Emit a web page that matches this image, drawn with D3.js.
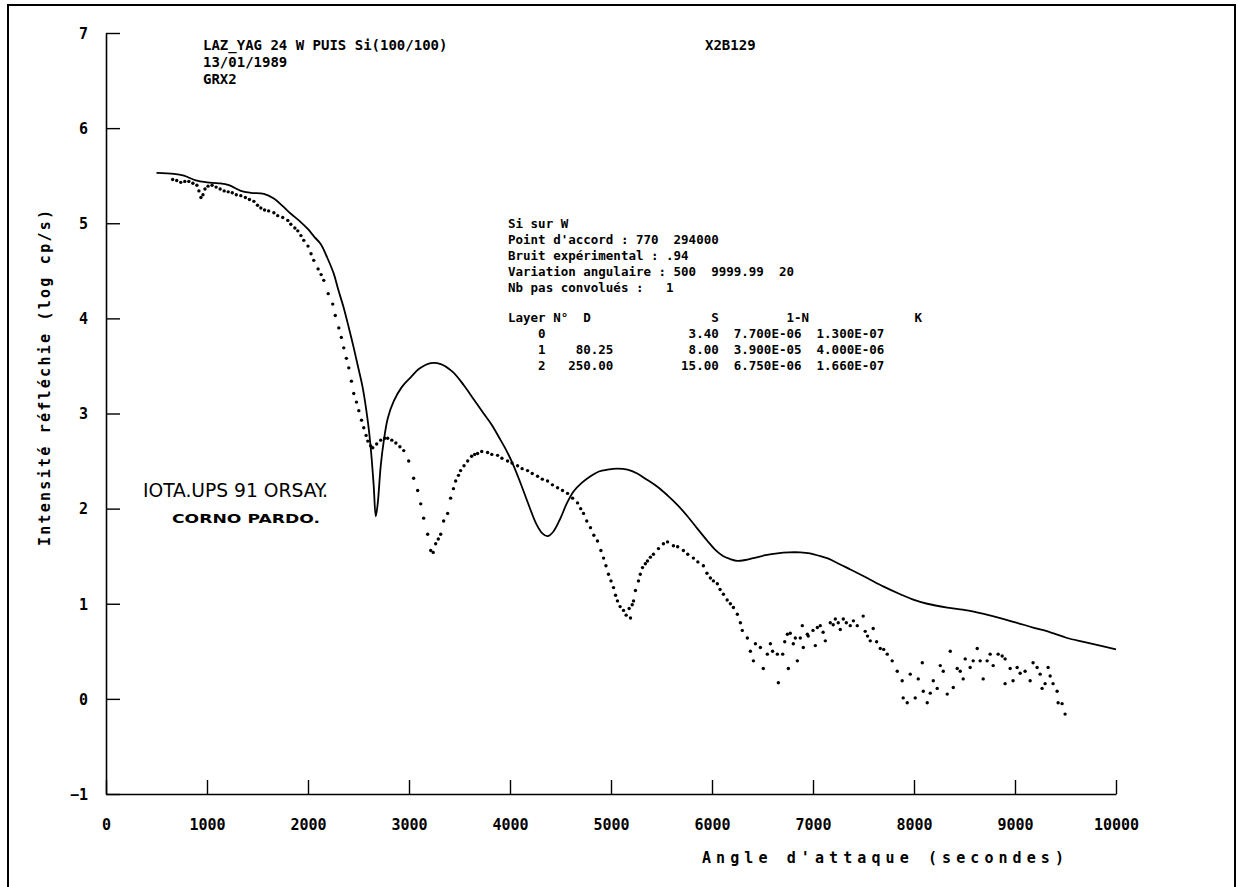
<!DOCTYPE html>
<html>
<head>
<meta charset="UTF-8">
<title>Réflectivité X - LAZ_YAG</title>
<script src="https://cdn.jsdelivr.net/npm/d3@7"></script>
<style>
  body { margin: 0; background: #fff; }
  text { fill: #000; }
  .mono { font-family: "DejaVu Sans Mono", monospace; font-weight: bold; white-space: pre; }
</style>
</head>
<body>
<div id="chart"></div>
<script>
// courbe calculée (trait continu) : angle (secondes), log intensité
var calcX = [500, 673, 772, 890, 1000, 1118, 1217, 1335, 1434, 1563, 1662, 1750, 1830, 1920, 1998, 2060, 2127, 2190, 2255, 2300,
    2354, 2400, 2453, 2500, 2542, 2592, 2621, 2650, 2671, 2690, 2720, 2750, 2790, 2849, 2930, 3017, 3100, 3215, 3314, 3430,
    3541, 3640, 3739, 3820, 3907, 3970, 4036, 4100, 4174, 4260, 4320, 4372, 4430, 4500, 4560, 4629, 4710, 4797, 4880, 4965,
    5063, 5163, 5260, 5361, 5460, 5559, 5657, 5757, 5855, 5955, 6030, 6113, 6180, 6251, 6330, 6409, 6530, 6647, 6760, 6874,
    6970, 7072, 7140, 7201, 7370, 7537, 7700, 7864, 8000, 8131, 8330, 8526, 8700, 8853, 9020, 9179, 9350, 9515, 9680, 9842, 10000];
var calcY = [5.53, 5.52, 5.50, 5.45, 5.43, 5.42, 5.40, 5.34, 5.32, 5.31, 5.26, 5.18, 5.10, 5.02, 4.94, 4.86, 4.78, 4.64, 4.47, 4.30,
    4.11, 3.92, 3.69, 3.47, 3.27, 2.92, 2.64, 2.25, 1.92, 2.05, 2.45, 2.71, 2.95, 3.13, 3.28, 3.38, 3.47, 3.53, 3.52, 3.44,
    3.30, 3.15, 3.00, 2.88, 2.72, 2.60, 2.45, 2.28, 2.07, 1.84, 1.74, 1.71, 1.76, 1.90, 2.05, 2.18, 2.27, 2.34, 2.39, 2.41,
    2.42, 2.41, 2.37, 2.30, 2.23, 2.14, 2.04, 1.92, 1.79, 1.66, 1.57, 1.50, 1.47, 1.45, 1.46, 1.48, 1.51, 1.53, 1.54, 1.54,
    1.53, 1.50, 1.48, 1.45, 1.36, 1.27, 1.18, 1.10, 1.04, 1.00, 0.96, 0.93, 0.89, 0.85, 0.80, 0.75, 0.70, 0.64, 0.60, 0.56, 0.52];

// points expérimentaux
var expX = [660, 700, 740, 780, 820, 860, 900, 920, 940, 960, 980, 1010, 1050, 1090, 1130, 1170, 1210, 1250, 1290, 1335,
    1380, 1420, 1464, 1500, 1533, 1570, 1610, 1662, 1700, 1750, 1800, 1830, 1870, 1899, 1930, 1958, 2000, 2030, 2057, 2100,
    2130, 2156, 2200, 2245, 2270, 2305, 2330, 2354, 2380, 2404, 2430, 2453, 2480, 2503, 2530, 2552, 2575, 2592, 2620, 2641,
    2680, 2720, 2760, 2789, 2830, 2870, 2910, 2948, 2997, 3046, 3086, 3116, 3145, 3185, 3215, 3240, 3264, 3290, 3314, 3343,
    3383, 3412, 3440, 3462, 3490, 3511, 3545, 3581, 3620, 3650, 3679, 3720, 3778, 3820, 3877, 3920, 3976, 4020, 4075, 4120,
    4174, 4220, 4273, 4320, 4372, 4420, 4471, 4520, 4570, 4620, 4669, 4700, 4728, 4760, 4797, 4830, 4866, 4900, 4926, 4950,
    4975, 5000, 5025, 5045, 5064, 5090, 5124, 5150, 5193, 5180, 5210, 5223, 5242, 5272, 5290, 5312, 5340, 5361, 5390, 5420,
    5470, 5519, 5560, 5618, 5660, 5717, 5760, 5816, 5860, 5915, 5950, 5984, 6014, 6053, 6080, 6113, 6150, 6182, 6212, 6251,
    6281, 6300, 6350, 6380, 6410, 6430, 6479, 6508, 6548, 6578, 6600, 6647, 6657, 6700, 6720, 6746, 6756, 6775, 6805, 6825,
    6845, 6874, 6894, 6904, 6944, 6953, 7000, 7023, 7043, 7072, 7100, 7122, 7171, 7200, 7221, 7250, 7270, 7300, 7330, 7369,
    7400, 7438, 7497, 7517, 7540, 7567, 7596, 7630, 7666, 7700, 7735, 7784, 7834, 7883, 7893, 7933, 7963, 8012, 8042, 8082,
    8092, 8131, 8161, 8191, 8230, 8260, 8290, 8329, 8359, 8389, 8428, 8458, 8487, 8507, 8556, 8586, 8626, 8655, 8685, 8724,
    8754, 8784, 8833, 8873, 8902, 8902, 8952, 8981, 9021, 9051, 9100, 9150, 9179, 9219, 9249, 9268, 9298, 9328, 9348, 9377,
    9417, 9427, 9466, 9496];
var expY = [5.46, 5.45, 5.43, 5.44, 5.44, 5.42, 5.40, 5.34, 5.27, 5.30, 5.36, 5.39, 5.40, 5.38, 5.36, 5.34, 5.33, 5.32, 5.30, 5.29,
    5.27, 5.25, 5.23, 5.19, 5.16, 5.14, 5.13, 5.11, 5.08, 5.06, 5.03, 4.99, 4.95, 4.92, 4.87, 4.82, 4.76, 4.68, 4.61, 4.52,
    4.46, 4.40, 4.26, 4.15, 4.03, 3.90, 3.80, 3.69, 3.58, 3.48, 3.34, 3.21, 3.12, 3.03, 2.93, 2.85, 2.77, 2.71, 2.66, 2.64,
    2.68, 2.72, 2.74, 2.74, 2.72, 2.69, 2.65, 2.61, 2.50, 2.32, 2.19, 2.05, 1.90, 1.73, 1.56, 1.54, 1.63, 1.68, 1.73, 1.87,
    1.95, 2.11, 2.21, 2.29, 2.35, 2.40, 2.45, 2.50, 2.55, 2.57, 2.58, 2.60, 2.59, 2.57, 2.56, 2.53, 2.50, 2.48, 2.45, 2.42,
    2.40, 2.37, 2.34, 2.31, 2.29, 2.25, 2.22, 2.19, 2.16, 2.11, 2.06, 2.00, 1.95, 1.87, 1.80, 1.72, 1.66, 1.56, 1.48, 1.40,
    1.31, 1.24, 1.17, 1.09, 1.03, 0.97, 0.93, 0.88, 0.85, 0.95, 0.99, 1.03, 1.14, 1.24, 1.31, 1.38, 1.42, 1.45, 1.49, 1.52,
    1.58, 1.63, 1.65, 1.61, 1.60, 1.56, 1.52, 1.48, 1.44, 1.40, 1.32, 1.27, 1.24, 1.21, 1.15, 1.10, 1.04, 1.00, 0.96, 0.89,
    0.80, 0.72, 0.64, 0.50, 0.40, 0.58, 0.54, 0.32, 0.47, 0.58, 0.50, 0.47, 0.17, 0.47, 0.60, 0.68, 0.32, 0.69, 0.58, 0.64,
    0.40, 0.64, 0.77, 0.54, 0.68, 0.66, 0.72, 0.56, 0.75, 0.77, 0.70, 0.61, 0.80, 0.78, 0.84, 0.80, 0.73, 0.84, 0.80, 0.77,
    0.82, 0.77, 0.87, 0.71, 0.66, 0.61, 0.74, 0.60, 0.53, 0.52, 0.47, 0.40, 0.29, 0.19, 0.01, -0.04, 0.26, 0.01, 0.21, 0.38,
    0.08, -0.04, 0.06, 0.19, 0.11, 0.35, 0.29, 0.05, 0.50, 0.12, 0.32, 0.29, 0.21, 0.42, 0.33, 0.40, 0.53, 0.40, 0.21, 0.40,
    0.47, 0.35, 0.47, 0.45, 0.42, 0.16, 0.32, 0.19, 0.33, 0.27, 0.29, 0.19, 0.38, 0.33, 0.26, 0.11, 0.16, 0.33, 0.24, 0.16,
    0.08, -0.04, -0.05, -0.16];

var xTicks = [0, 1000, 2000, 3000, 4000, 5000, 6000, 7000, 8000, 9000, 10000];
var yTicks = [-1, 0, 1, 2, 3, 4, 5, 6, 7];

var titleLines = ["LAZ_YAG 24 W PUIS Si(100/100)", "13/01/1989", "GRX2"];
var sampleRef = "X2B129";
var infoLines = [
    "Si sur W",
    "Point d'accord : 770  294000",
    "Bruit expérimental : .94",
    "Variation angulaire : 500  9999.99  20",
    "Nb pas convolués :   1"
];
var layerLines = [
    "Layer N°  D                S         1-N              K",
    "    0                   3.40  7.700E-06  1.300E-07",
    "    1    80.25          8.00  3.900E-05  4.000E-06",
    "    2   250.00         15.00  6.750E-06  1.660E-07"
];

var width = 1238, height = 887;

var svg = d3.select("#chart").append("svg")
    .attr("width", width)
    .attr("height", height);

// cadre de la feuille
svg.append("path")
    .attr("d", "M8,887 L8,5 L1235,5 L1235,887")
    .attr("fill", "none")
    .attr("stroke", "#000")
    .attr("stroke-width", 2);

var x = d3.scaleLinear().domain([0, 10000]).range([106, 1116]);
var y = d3.scaleLinear().domain([-1, 7]).range([794, 33]);

// axe Y
var yAxis = d3.axisLeft(y)
    .tickValues(yTicks)
    .tickSizeInner(-14)
    .tickSizeOuter(0)
    .tickPadding(16)
    .tickFormat(d3.format("d"));
var gy = svg.append("g")
    .attr("transform", "translate(" + x(0) + ",0)")
    .call(yAxis);

// axe X
var xAxis = d3.axisBottom(x)
    .tickValues(xTicks)
    .tickSizeInner(-14)
    .tickSizeOuter(0)
    .tickPadding(24)
    .tickFormat(d3.format("d"));
var gx = svg.append("g")
    .attr("transform", "translate(0," + y(-1) + ")")
    .call(xAxis);

[gx, gy].forEach(function (g) {
    g.select(".domain").attr("stroke", "#000").attr("stroke-width", 1.6);
    g.selectAll(".tick line").attr("stroke", "#000").attr("stroke-width", 1.4);
    g.selectAll(".tick text")
        .attr("class", "mono")
        .attr("font-size", 15)
        .attr("font-family", "DejaVu Sans Mono, monospace")
        .attr("font-weight", "bold")
        .attr("fill", "#000");
});
gy.selectAll(".tick text").attr("x", -18).attr("dy", "0.35em");
gx.selectAll(".tick text").attr("dy", "0.35em").attr("y", 31);

// titres des axes
svg.append("text")
    .attr("class", "mono")
    .attr("transform", "translate(45," + 378 + ") rotate(-90)")
    .attr("text-anchor", "middle")
    .attr("font-size", 15)
    .attr("textLength", 336)
    .attr("lengthAdjust", "spacing")
    .attr("dy", "0.35em")
    .text("Intensité réfléchie (log cp/s)");

svg.append("text")
    .attr("class", "mono")
    .attr("x", 702)
    .attr("y", 863)
    .attr("font-size", 15)
    .attr("textLength", 362)
    .attr("lengthAdjust", "spacing")
    .text("Angle d'attaque (secondes)");

// courbe calculée
var line = d3.line()
    .x(function (d) { return x(d[0]); })
    .y(function (d) { return y(d[1]); })
    .curve(d3.curveCatmullRom.alpha(0.5));

svg.append("path")
    .datum(d3.zip(calcX, calcY))
    .attr("d", line)
    .attr("fill", "none")
    .attr("stroke", "#000")
    .attr("stroke-width", 1.8);

// points expérimentaux
svg.append("g")
    .selectAll("circle")
    .data(d3.zip(expX, expY))
    .enter().append("circle")
    .attr("cx", function (d) { return x(d[0]); })
    .attr("cy", function (d) { return y(d[1]); })
    .attr("r", 1.7)
    .attr("fill", "#000");

// en-tête
var head = svg.append("g").attr("font-size", 14);
head.selectAll("text.t")
    .data(titleLines)
    .enter().append("text")
    .attr("class", "mono")
    .attr("x", 203)
    .attr("y", 50)
    .attr("dy", function (d, i) { return i * 17; })
    .text(function (d) { return d; });
head.append("text")
    .attr("class", "mono")
    .attr("x", 705)
    .attr("y", 50)
    .text(sampleRef);

// bloc de paramètres
var info = svg.append("g").attr("font-size", 12.5);
info.selectAll("text.i")
    .data(infoLines)
    .enter().append("text")
    .attr("class", "mono")
    .attr("x", 508)
    .attr("y", function (d, i) { return 228 + i * 16; })
    .text(function (d) { return d; });
info.selectAll("text.l")
    .data(layerLines)
    .enter().append("text")
    .attr("class", "mono")
    .attr("x", 508)
    .attr("y", function (d, i) { return 322 + i * 16; })
    .text(function (d) { return d; });

// tampon du laboratoire
svg.append("text")
    .attr("x", 143)
    .attr("y", 497)
    .attr("font-family", "Liberation Sans Narrow, DejaVu Sans Condensed, sans-serif")
    .attr("font-size", 19)
    .attr("textLength", 185)
    .attr("lengthAdjust", "spacingAndGlyphs")
    .text("IOTA.UPS 91 ORSAY.");
svg.append("text")
    .attr("x", 172)
    .attr("y", 523)
    .attr("font-family", "DejaVu Sans, sans-serif")
    .attr("font-weight", "bold")
    .attr("font-size", 12)
    .attr("textLength", 148)
    .attr("lengthAdjust", "spacingAndGlyphs")
    .text("CORNO PARDO.");
</script>
</body>
</html>
